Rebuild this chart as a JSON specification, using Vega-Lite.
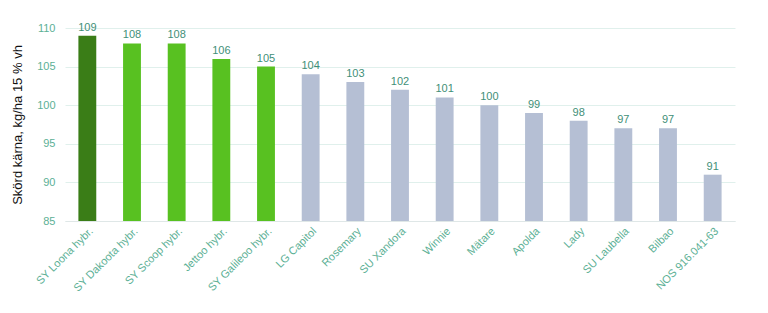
{
  "$schema": "https://vega.github.io/schema/vega-lite/v6.json",
  "width": 670,
  "height": 193,
  "autosize": "none",
  "padding": {"left": 65, "top": 28, "right": 33, "bottom": 92},
  "background": "white",
  "data": {
    "values": [
      {"sort": 1, "name": "SY Loona hybr.", "value": 109, "group": "a"},
      {"sort": 2, "name": "SY Dakoota hybr.", "value": 108, "group": "b"},
      {"sort": 3, "name": "SY Scoop hybr.", "value": 108, "group": "b"},
      {"sort": 4, "name": "Jettoo hybr.", "value": 106, "group": "b"},
      {"sort": 5, "name": "SY Galileoo  hybr.", "value": 105, "group": "b"},
      {"sort": 6, "name": "LG Capitol", "value": 104, "group": "c"},
      {"sort": 7, "name": "Rosemary", "value": 103, "group": "c"},
      {"sort": 8, "name": "SU Xandora", "value": 102, "group": "c"},
      {"sort": 9, "name": "Winnie", "value": 101, "group": "c"},
      {"sort": 10, "name": "Mätare", "value": 100, "group": "c"},
      {"sort": 11, "name": "Apolda", "value": 99, "group": "c"},
      {"sort": 12, "name": "Lady", "value": 98, "group": "c"},
      {"sort": 13, "name": "SU Laubella", "value": 97, "group": "c"},
      {"sort": 14, "name": "Bilbao", "value": 97, "group": "c"},
      {"sort": 15, "name": "NOS 916.041-63", "value": 91, "group": "c"}
    ]
  },
  "config": {
    "font": "Liberation Sans",
    "view": {"stroke": null}
  },
  "encoding": {
    "x": {
      "field": "name",
      "type": "nominal",
      "sort": {"field": "sort"},
      "scale": {"paddingInner": 0.6, "paddingOuter": 0.3},
      "axis": {
        "title": null,
        "labelAngle": -45,
        "labelColor": "#5cb095",
        "labelFontSize": 11,
        "labelPadding": 4,
        "ticks": false,
        "domainColor": "#dfe7e7",
        "labelLimit": 200
      }
    },
    "y": {
      "field": "value",
      "type": "quantitative",
      "scale": {"domain": [85, 110], "zero": false, "clamp": true},
      "axis": {
        "title": "Skörd kärna, kg/ha 15 % vh",
        "titleColor": "#111",
        "titleFontSize": 13,
        "titleFontWeight": "normal",
        "titlePadding": 12,
        "values": [85, 90, 95, 100, 105, 110],
        "labelColor": "#5cb095",
        "labelFontSize": 11,
        "labelPadding": 10,
        "ticks": false,
        "domain": false,
        "gridColor": "#e0f0ec"
      }
    }
  },
  "layer": [
    {
      "mark": {"type": "bar"},
      "encoding": {
        "y2": {"datum": 85},
        "color": {
          "field": "group",
          "type": "nominal",
          "scale": {"domain": ["a", "b", "c"], "range": ["#3a7d17", "#58c121", "#b5bfd4"]},
          "legend": null
        }
      }
    },
    {
      "mark": {"type": "text", "dy": -8, "fontSize": 11, "color": "#3f8f78"},
      "encoding": {"text": {"field": "value", "type": "quantitative"}}
    }
  ]
}
